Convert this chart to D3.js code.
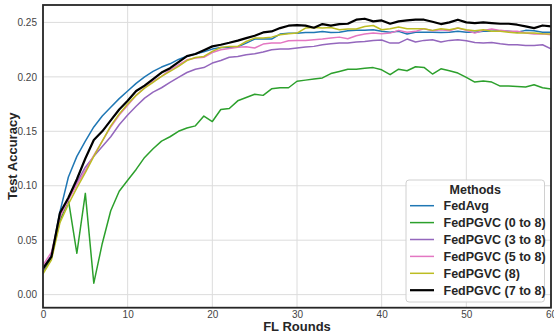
<!DOCTYPE html>
<html><head><meta charset="utf-8">
<script src="https://cdn.jsdelivr.net/npm/d3@7"></script>
<style>
html,body{margin:0;padding:0;background:#fff;}
svg{display:block;font-family:"Liberation Sans",Arial,sans-serif;}
</style></head>
<body><svg id="c" width="554" height="334"></svg>
<script>
const rounds = d3.range(0, 61);
const xTicks = [0, 10, 20, 30, 40, 50, 60];
const yTicks = [0.00, 0.05, 0.10, 0.15, 0.20, 0.25];
const seriesNames = ["FedAvg", "FedPGVC (0 to 8)", "FedPGVC (3 to 8)", "FedPGVC (5 to 8)", "FedPGVC (8)", "FedPGVC (7 to 8)"];
const seriesColors = ["#1f77b4", "#2ca02c", "#9467bd", "#e377c2", "#bcbd22", "#000000"];

const fedAvg = [0.024,0.036,0.076,0.108,0.127,0.141,0.154,0.164,0.172,0.180,0.187,0.194,0.200,0.205,0.209,0.212,0.216,0.219,0.221,0.223,0.2255,0.227,0.227,0.2275,0.231,0.2347,0.2347,0.2347,0.2393,0.240,0.240,0.2408,0.2408,0.2417,0.2408,0.241,0.2424,0.2427,0.2427,0.2433,0.2418,0.241,0.2418,0.2393,0.241,0.241,0.241,0.2408,0.241,0.2418,0.241,0.241,0.2418,0.2418,0.2424,0.2418,0.241,0.2427,0.2424,0.241,0.241];
const pgvc0to8 = [0.021,0.034,0.068,0.087,0.038,0.093,0.0105,0.047,0.077,0.095,0.105,0.115,0.126,0.134,0.141,0.145,0.150,0.153,0.155,0.164,0.159,0.170,0.171,0.178,0.181,0.184,0.183,0.189,0.190,0.190,0.196,0.197,0.198,0.199,0.203,0.205,0.207,0.207,0.208,0.2085,0.2065,0.202,0.207,0.2056,0.2093,0.2087,0.2026,0.2074,0.2056,0.2035,0.1995,0.1952,0.1961,0.1952,0.1915,0.1915,0.1912,0.1906,0.1927,0.190,0.1888];
const pgvc3to8 = [0.022,0.036,0.072,0.088,0.103,0.117,0.127,0.136,0.145,0.156,0.165,0.173,0.1805,0.186,0.190,0.195,0.1995,0.204,0.207,0.2085,0.2127,0.215,0.218,0.2188,0.2203,0.2212,0.2228,0.2249,0.2255,0.2255,0.2265,0.2274,0.228,0.2295,0.2304,0.231,0.231,0.232,0.2325,0.2335,0.2338,0.231,0.231,0.2347,0.232,0.2335,0.2341,0.232,0.2335,0.2341,0.2332,0.2316,0.231,0.2316,0.2304,0.2295,0.2295,0.2289,0.2289,0.2295,0.2258];
const pgvc5to8 = [0.027,0.039,0.071,0.087,0.101,0.114,0.128,0.141,0.154,0.165,0.174,0.183,0.190,0.1958,0.2004,0.2065,0.211,0.2157,0.2173,0.218,0.2224,0.2249,0.226,0.2273,0.2276,0.2265,0.2301,0.231,0.231,0.2332,0.2335,0.2335,0.2341,0.2347,0.2356,0.2365,0.235,0.2378,0.2393,0.2402,0.2396,0.2402,0.2427,0.241,0.2418,0.2442,0.2424,0.2433,0.2424,0.2448,0.2427,0.2402,0.2427,0.2439,0.2427,0.2418,0.2418,0.2402,0.2393,0.2396,0.2387];
const pgvc8 = [0.019,0.032,0.066,0.083,0.098,0.112,0.127,0.141,0.155,0.166,0.175,0.183,0.1897,0.195,0.2004,0.205,0.2096,0.215,0.2178,0.2188,0.2234,0.227,0.228,0.228,0.2325,0.2356,0.2356,0.2365,0.2387,0.2396,0.2402,0.2448,0.2454,0.2448,0.2454,0.2433,0.2439,0.2439,0.2463,0.2472,0.2433,0.2442,0.2457,0.2442,0.2442,0.2442,0.2427,0.2442,0.2433,0.2448,0.2433,0.2424,0.2433,0.2418,0.2418,0.241,0.2402,0.2402,0.2402,0.2396,0.2393];
const pgvc7to8 = [0.024,0.035,0.075,0.089,0.106,0.125,0.142,0.150,0.160,0.170,0.178,0.187,0.192,0.198,0.204,0.208,0.2135,0.219,0.221,0.2245,0.228,0.2295,0.2313,0.2333,0.2356,0.2378,0.2408,0.2417,0.2448,0.247,0.2476,0.247,0.2451,0.2485,0.247,0.2485,0.2488,0.2525,0.2534,0.251,0.2518,0.2488,0.251,0.2518,0.2525,0.2525,0.2506,0.2485,0.25,0.2525,0.25,0.2494,0.25,0.2494,0.2488,0.2488,0.2479,0.2463,0.2448,0.2472,0.2463];

const allSeries = [fedAvg, pgvc0to8, pgvc3to8, pgvc5to8, pgvc8, pgvc7to8];

const L = 43, R = 551, T = 5, B = 307.7;
const svg = d3.select("#c");
const x = d3.scaleLinear().domain([0, 60]).range([L, R]);
const y = d3.scaleLinear().domain([-0.012, 0.266]).range([B, T]);

// grid
const grid = svg.append("g");
grid.selectAll("line.gx").data(xTicks).join("line")
  .attr("x1", d => x(d)).attr("x2", d => x(d)).attr("y1", T).attr("y2", B)
  .attr("stroke", "#dcdcdc").attr("stroke-width", 1);
grid.selectAll("line.gy").data(yTicks).join("line")
  .attr("y1", d => y(d)).attr("y2", d => y(d)).attr("x1", L).attr("x2", R)
  .attr("stroke", "#dcdcdc").attr("stroke-width", 1);

// axes
const xAxis = svg.append("g").attr("transform", `translate(0,${B})`)
  .call(d3.axisBottom(x).tickValues(xTicks).tickSize(0).tickPadding(3.5).tickFormat(d3.format("d")));
const yAxis = svg.append("g").attr("transform", `translate(${L},0)`)
  .call(d3.axisLeft(y).tickValues(yTicks).tickSize(0).tickPadding(6).tickFormat(d3.format(".2f")));
[xAxis, yAxis].forEach(a => {
  a.select(".domain").remove();
  a.selectAll("text").attr("fill", "#444").attr("font-size", 10)
    .attr("font-family", "'Liberation Sans', Arial, sans-serif");
});

// lines
const line = d3.line().x((d, i) => x(rounds[i])).y(d => y(d));
svg.append("defs").append("clipPath").attr("id", "pc")
  .append("rect").attr("x", L).attr("y", T).attr("width", R - L).attr("height", B - T);
const lg = svg.append("g").attr("clip-path", "url(#pc)");
allSeries.forEach((s, i) => {
  lg.append("path").datum(s).attr("d", line).attr("fill", "none")
    .attr("stroke", seriesColors[i])
    .attr("stroke-width", i === 5 ? 2.2 : 1.5)
    .attr("stroke-linejoin", "round");
});

// frame
svg.append("rect").attr("x", L).attr("y", T).attr("width", R - L).attr("height", B - T)
  .attr("fill", "none").attr("stroke", "#262626").attr("stroke-width", 1.8);

// axis titles
svg.append("text").attr("x", (L + R) / 2).attr("y", 331.3).attr("text-anchor", "middle")
  .attr("font-size", 13).attr("font-weight", "bold").attr("fill", "#262626").text("FL Rounds");
svg.append("text").attr("transform", `translate(17,${(T + B) / 2}) rotate(-90)`)
  .attr("text-anchor", "middle").attr("font-size", 13).attr("font-weight", "bold")
  .attr("fill", "#262626").text("Test Accuracy");

// legend
const lgx = 406, lgy = 180, lgw = 138.5, lgh = 122;
const leg = svg.append("g");
leg.append("rect").attr("x", lgx).attr("y", lgy).attr("width", lgw).attr("height", lgh)
  .attr("rx", 3).attr("fill", "#fff").attr("fill-opacity", 0.85).attr("stroke", "#d0d0d0").attr("stroke-width", 1);
leg.append("text").attr("x", lgx + lgw / 2).attr("y", lgy + 13.5).attr("text-anchor", "middle")
  .attr("font-size", 12.5).attr("font-weight", "bold").attr("fill", "#262626").text("Methods");
seriesNames.forEach((n, i) => {
  const cy = 205.7 + i * 16.9;
  leg.append("line").attr("x1", 410).attr("x2", 434).attr("y1", cy).attr("y2", cy)
    .attr("stroke", seriesColors[i]).attr("stroke-width", i === 5 ? 2.2 : 1.5);
  leg.append("text").attr("x", 443.5).attr("y", cy + 4.3).attr("font-size", 12.5)
    .attr("font-weight", "bold").attr("fill", "#262626").text(n);
});
</script></body></html>
